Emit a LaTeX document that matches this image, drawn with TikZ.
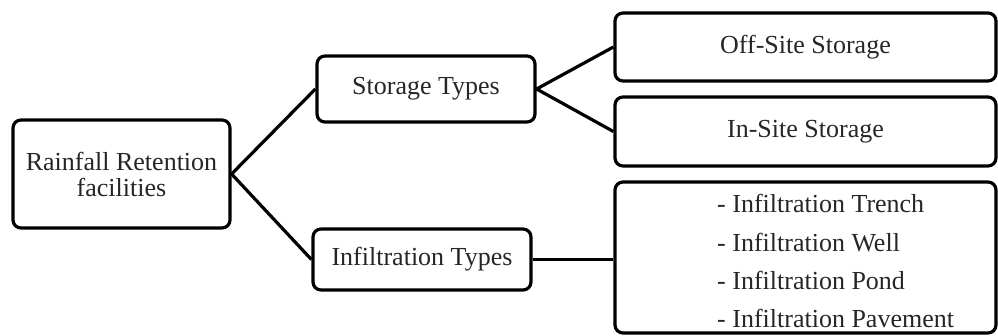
\documentclass[tikz,border=0pt]{standalone}
\usepackage{fontspec}
\setmainfont{Liberation Serif}
\begin{document}
\begin{tikzpicture}[x=1pt,y=-1pt,
  box/.style={draw, line width=3.2pt, rounded corners=8pt, inner sep=0pt,
    font=\fontsize{26}{26}\selectfont, text=black!85, align=center},
  link/.style={line width=3.2pt},
  listtext/.style={inner sep=0pt, align=left, text=black!85,
    font=\fontsize{26}{38.3}\selectfont}]
  \useasboundingbox (0,0) rectangle (998,336);

  % root and first level
  \node[box, minimum width=217pt, minimum height=108pt] (root) at (121.5,174)
    {Rainfall Retention\\facilities};
  \node[box, minimum width=218pt, minimum height=66pt] (stor) at (426,89)
    {Storage Types};
  \node[box, minimum width=218pt, minimum height=61pt] (infl) at (422,259.5)
    {Infiltration Types};

  % second level
  \node[box, minimum width=381pt, minimum height=68pt] (off) at (805.5,47)
    {Off-Site Storage};
  \node[box, minimum width=381pt, minimum height=69pt] (in) at (805.5,131.5)
    {In-Site Storage};
  \node[box, minimum width=381pt, minimum height=151pt] (list) at (805.5,257.5) {};
  \node[listtext, anchor=north west] (items) at (717,194.2)
    {- Infiltration Trench\\- Infiltration Well\\- Infiltration Pond\\- Infiltration Pavement};

  % connectors
  \draw[link] (root.east) -- (stor.west);
  \draw[link] (root.east) -- (infl.west);
  \draw[link] (stor.east) -- (off.west);
  \draw[link] (stor.east) -- (in.west);
  \draw[link] (infl.east) -- (infl.east -| list.west);
\end{tikzpicture}
\end{document}
